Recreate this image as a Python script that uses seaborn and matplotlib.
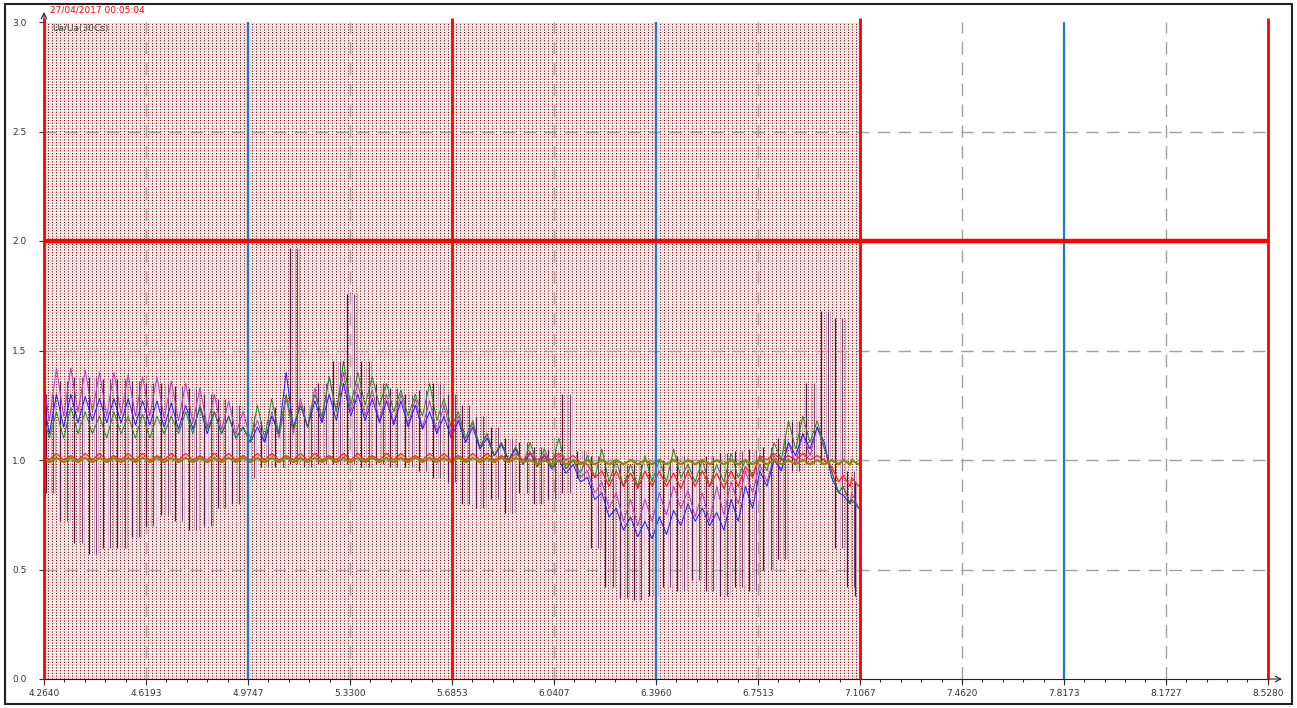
import numpy as np
import pandas as pd
import matplotlib
matplotlib.use("Agg")
import matplotlib.pyplot as plt
import seaborn as sns
from matplotlib.patches import Rectangle

# ---------------- data ----------------
x_ticks = [4.2640, 4.6193, 4.9747, 5.3300, 5.6853, 6.0407, 6.3960,
           6.7513, 7.1067, 7.4620, 7.8173, 8.1727, 8.5280]
x_tick_labels = ["4.2640", "4.6193", "4.9747", "5.3300", "5.6853", "6.0407",
                 "6.3960", "6.7513", "7.1067", "7.4620", "7.8173", "8.1727", "8.5280"]
y_ticks = [0.0, 0.5, 1.0, 1.5, 2.0, 2.5, 3.0]
y_tick_labels = ["0.0", "0.5", "1.0", "1.5", "2.0", "2.5", "3.0"]
red_markers = [4.2640, 5.6853, 7.1067, 8.5280]
blue_markers = [4.9747, 6.3960, 7.8173]
limit_level = 2.0
record_start, record_end = 4.2640, 7.1067
timestamp = "27/04/2017 00:05:04"
channel_label = "Ua/Ua(30Cs)"

t = [4.27, 4.32, 4.37, 4.42, 4.47, 4.52, 4.57, 4.62, 4.67, 4.72,
     4.77, 4.82, 4.87, 4.92, 4.97, 5.02, 5.07, 5.12, 5.17, 5.22,
     5.27, 5.32, 5.37, 5.42, 5.47, 5.52, 5.57, 5.62, 5.67, 5.72,
     5.77, 5.82, 5.87, 5.92, 5.97, 6.02, 6.07, 6.12, 6.17, 6.22,
     6.27, 6.32, 6.37, 6.42, 6.47, 6.52, 6.57, 6.62, 6.67, 6.72,
     6.77, 6.82, 6.87, 6.92, 6.97, 7.02, 7.06, 7.09]

purple_hi = [1.30, 1.36, 1.38, 1.38, 1.37, 1.37, 1.36, 1.35, 1.35, 1.34,
             1.33, 1.30, 1.28, 1.25, 1.20, 1.18, 1.24, 1.97, 1.25, 1.35,
             1.45, 1.76, 1.45, 1.35, 1.33, 1.30, 1.32, 1.35, 1.30, 1.25,
             1.20, 1.15, 1.10, 1.08, 1.06, 1.05, 1.30, 1.04, 1.02, 1.00,
             0.98, 0.98, 1.00, 1.00, 1.02, 1.00, 1.02, 1.03, 1.04, 1.05,
             1.06, 1.10, 1.18, 1.35, 1.68, 1.65, 0.95, 0.90]
purple_lo = [0.85, 0.72, 0.62, 0.57, 0.60, 0.60, 0.65, 0.70, 0.75, 0.72,
             0.68, 0.70, 0.78, 0.80, 0.92, 0.97, 0.97, 0.98, 0.97, 0.98,
             0.98, 0.98, 0.97, 0.98, 0.97, 0.97, 0.95, 0.92, 0.90, 0.80,
             0.78, 0.82, 0.76, 0.85, 0.80, 0.82, 0.85, 0.92, 0.60, 0.42,
             0.37, 0.36, 0.38, 0.42, 0.40, 0.45, 0.40, 0.38, 0.42, 0.40,
             0.50, 0.55, 0.95, 0.98, 0.98, 0.60, 0.42, 0.38]

magenta_hi = [1.40, 1.42, 1.42, 1.41, 1.40, 1.40, 1.39, 1.38, 1.38, 1.36,
              1.35, 1.33, 1.30, 1.27, 1.22, 1.18, 1.22, 1.28, 1.28, 1.33,
              1.38, 1.40, 1.35, 1.32, 1.30, 1.30, 1.28, 1.27, 1.25, 1.20,
              1.17, 1.12, 1.08, 1.06, 1.04, 1.03, 1.02, 1.00, 0.95, 0.90,
              0.85, 0.82, 0.82, 0.85, 0.88, 0.86, 0.85, 0.88, 0.90, 0.95,
              0.98, 1.02, 1.08, 1.12, 1.15, 0.95, 0.88, 0.85]
magenta_lo = [1.18, 1.20, 1.22, 1.22, 1.20, 1.21, 1.20, 1.20, 1.19, 1.18,
              1.17, 1.15, 1.14, 1.12, 1.10, 1.08, 1.10, 1.12, 1.15, 1.18,
              1.22, 1.22, 1.20, 1.18, 1.17, 1.16, 1.15, 1.13, 1.12, 1.08,
              1.05, 1.02, 1.00, 0.98, 0.97, 0.97, 0.96, 0.92, 0.85, 0.78,
              0.72, 0.70, 0.72, 0.75, 0.78, 0.74, 0.72, 0.75, 0.80, 0.85,
              0.90, 0.95, 0.98, 1.02, 1.05, 0.85, 0.80, 0.78]

blue_hi = [1.30, 1.30, 1.30, 1.29, 1.28, 1.28, 1.28, 1.27, 1.27, 1.26,
           1.25, 1.24, 1.22, 1.20, 1.15, 1.15, 1.20, 1.40, 1.25, 1.27,
           1.30, 1.35, 1.30, 1.28, 1.27, 1.27, 1.25, 1.22, 1.20, 1.18,
           1.15, 1.10, 1.07, 1.05, 1.03, 1.02, 1.00, 0.98, 0.92, 0.85,
           0.78, 0.74, 0.72, 0.74, 0.77, 0.80, 0.78, 0.76, 0.82, 0.88,
           0.95, 1.00, 1.08, 1.12, 1.15, 0.92, 0.84, 0.82]
blue_lo = [1.12, 1.15, 1.17, 1.18, 1.17, 1.17, 1.16, 1.16, 1.15, 1.14,
           1.14, 1.12, 1.12, 1.10, 1.08, 1.08, 1.12, 1.15, 1.15, 1.17,
           1.18, 1.20, 1.18, 1.17, 1.16, 1.15, 1.14, 1.12, 1.10, 1.08,
           1.05, 1.02, 1.00, 0.98, 0.97, 0.96, 0.94, 0.90, 0.82, 0.74,
           0.68, 0.65, 0.64, 0.66, 0.70, 0.72, 0.70, 0.68, 0.72, 0.78,
           0.88, 0.95, 1.02, 1.05, 1.08, 0.85, 0.80, 0.78]

green_hi = [1.22, 1.22, 1.24, 1.22, 1.20, 1.22, 1.20, 1.21, 1.20, 1.20,
            1.22, 1.25, 1.22, 1.20, 1.15, 1.25, 1.28, 1.30, 1.25, 1.30,
            1.38, 1.45, 1.40, 1.38, 1.35, 1.32, 1.30, 1.35, 1.28, 1.22,
            1.18, 1.12, 1.08, 1.06, 1.08, 1.05, 1.10, 1.00, 1.02, 1.05,
            1.00, 0.98, 1.02, 1.00, 1.05, 0.98, 1.00, 0.98, 1.03, 1.00,
            1.02, 1.08, 1.18, 1.20, 1.18, 0.95, 0.88, 0.82]
green_lo = [1.10, 1.10, 1.12, 1.12, 1.10, 1.12, 1.10, 1.10, 1.12, 1.12,
            1.12, 1.14, 1.12, 1.10, 1.08, 1.10, 1.12, 1.14, 1.15, 1.20,
            1.22, 1.25, 1.25, 1.25, 1.22, 1.20, 1.20, 1.18, 1.15, 1.10,
            1.06, 1.02, 1.00, 0.98, 0.98, 0.97, 0.96, 0.94, 0.92, 0.90,
            0.88, 0.88, 0.90, 0.90, 0.92, 0.90, 0.88, 0.90, 0.92, 0.93,
            0.95, 1.00, 1.05, 1.08, 1.06, 0.85, 0.80, 0.78]

red_hi = [1.03, 1.03, 1.02, 1.03, 1.03, 1.02, 1.03, 1.03, 1.02, 1.03,
          1.03, 1.02, 1.03, 1.03, 1.02, 1.03, 1.03, 1.02, 1.03, 1.03,
          1.02, 1.03, 1.03, 1.02, 1.03, 1.03, 1.02, 1.03, 1.03, 1.02,
          1.03, 1.03, 1.02, 1.03, 1.03, 1.02, 1.03, 1.02, 0.98, 0.95,
          0.95, 0.94, 0.95, 0.95, 0.94, 0.95, 0.95, 0.94, 0.95, 0.97,
          1.02, 1.03, 1.02, 1.03, 1.02, 0.97, 0.93, 0.92]
red_lo = [1.00, 1.00, 1.00, 1.00, 1.00, 1.00, 1.00, 1.00, 1.00, 1.00,
          1.00, 1.00, 1.00, 1.00, 1.00, 1.00, 1.00, 1.00, 1.00, 1.00,
          1.00, 1.00, 1.00, 1.00, 1.00, 1.00, 1.00, 1.00, 1.00, 1.00,
          1.00, 1.00, 1.00, 1.00, 1.00, 1.00, 1.00, 0.99, 0.92, 0.88,
          0.88, 0.87, 0.88, 0.88, 0.87, 0.88, 0.88, 0.87, 0.88, 0.92,
          1.00, 1.00, 1.00, 1.00, 1.00, 0.90, 0.88, 0.88]

olive_hi = [1.01, 1.01, 1.01, 1.01, 1.01, 1.01, 1.01, 1.01, 1.01, 1.01,
            1.01, 1.01, 1.01, 1.01, 1.01, 1.01, 1.01, 1.01, 1.01, 1.01,
            1.01, 1.01, 1.01, 1.01, 1.01, 1.01, 1.01, 1.01, 1.01, 1.01,
            1.01, 1.01, 1.01, 1.01, 1.00, 1.00, 1.00, 1.00, 1.00, 1.00,
            1.00, 1.00, 1.00, 1.00, 1.00, 1.00, 1.00, 1.00, 1.00, 1.00,
            1.00, 1.00, 1.00, 1.00, 1.00, 1.00, 1.00, 1.00]
olive_lo = [0.99, 0.99, 0.99, 0.99, 0.99, 0.99, 0.99, 0.99, 0.99, 0.99,
            0.99, 0.99, 0.99, 0.99, 0.99, 0.99, 0.99, 0.99, 0.99, 0.99,
            0.99, 0.99, 0.99, 0.99, 0.99, 0.99, 0.99, 0.99, 0.99, 0.99,
            0.99, 0.99, 0.99, 0.99, 0.98, 0.98, 0.98, 0.98, 0.98, 0.98,
            0.98, 0.98, 0.98, 0.98, 0.98, 0.98, 0.98, 0.98, 0.98, 0.98,
            0.98, 0.98, 0.98, 0.98, 0.98, 0.98, 0.98, 0.98]

# ---------------- style ----------------
sns.set_style("white")
plt.rcParams["font.family"] = ["DejaVu Sans"]

W, H = 1297, 708
fig = plt.figure(figsize=(W / 100, H / 100), dpi=100)
ax = fig.add_axes([44 / W, 29 / H, 1224 / W, 657 / H])
ax.set_xlim(record_start, 8.5280)
ax.set_ylim(0, 3.0)

# record sample grid (dense dotted verticals)
n_samples = 205
sample_x = np.linspace(record_start, record_end, n_samples)
ax.vlines(sample_x[:-1] + 0.006, 0, 3.0, colors="#e9c4c4", linewidth=1.0,
          linestyles=(0, (1.0, 1.0)), zorder=0.5)
ax.vlines(sample_x, 0, 3.0, colors="#7d1212", linewidth=0.9,
          linestyles=(0, (1.0, 1.2)), zorder=1)

# grid
dash = (0, (9, 6))
for gx in x_ticks:
    if gx in red_markers or gx in blue_markers:
        continue
    ax.axvline(gx, color="#a0a0a0", lw=1.0, linestyle=dash, zorder=2)
for gy in [0.5, 1.0, 1.5, 2.5]:
    ax.axhline(gy, color="#a0a0a0", lw=1.0, linestyle=dash, zorder=2)

# ---------------- series ----------------
half = 0.0125


def zigzag(hi, lo, name):
    xs, ys = [], []
    for xi, h, l in zip(t, hi, lo):
        xs += [xi - half, xi + half]
        ys += [h, l]
    return pd.DataFrame({"x": xs, "y": ys, "series": name})


t_arr = np.array(t)
p_hi = np.array(purple_hi)
p_lo = np.array(purple_lo)
# purple channel drawn as vertical min/max strokes (with faint ghost strokes)
for off, col, lw, z in [(0.0167, "#cfb0c6", 0.8, 2.5), (0.0333, "#cfb0c6", 0.8, 2.5),
                        (0.025, "#7a3a6a", 0.7, 3.0), (0.0, "#5a1450", 0.9, 3.05)]:
    keep = (t_arr + off) < record_end - 0.004
    ax.vlines(t_arr[keep] + off, p_lo[keep], p_hi[keep], colors=col, lw=lw, zorder=z)

series = [
    ("magenta", magenta_hi, magenta_lo, "#b23cb8", 0.7),
    ("blue", blue_hi, blue_lo, "#1a1aff", 0.7),
    ("green", green_hi, green_lo, "#1e8a1e", 0.7),
    ("red", red_hi, red_lo, "#ff2020", 0.9),
    ("olive", olive_hi, olive_lo, "#8c8a00", 1.6),
]
for i, (name, hi, lo, col, lw) in enumerate(series):
    df = zigzag(hi, lo, name)
    sns.lineplot(data=df, x="x", y="y", sort=False, estimator=None,
                 color=col, lw=lw, ax=ax, legend=False)
    ax.lines[-1].set_zorder(3.2 + i * 0.1)

# marker lines
ax.vlines(red_markers, 0, 3.02, colors="#ff0000", lw=2.0, zorder=5, clip_on=False)
ax.vlines(blue_markers, 0, 3.0, colors="#1f78c8", lw=1.6, zorder=5)
ax.hlines(limit_level, record_start, 8.5280, colors="#ff0000", lw=3.2, zorder=6)

# ---------------- axes ----------------
ax.set_xlabel("")
ax.set_ylabel("")
ax.set_xticks(x_ticks)
ax.set_xticklabels(x_tick_labels)
step = (x_ticks[1] - x_ticks[0]) / 5
ax.set_xticks(np.arange(record_start, 8.5281, step), minor=True)
ax.set_yticks(y_ticks)
ax.set_yticklabels(y_tick_labels)
ax.tick_params(axis="x", which="major", direction="out", length=4, width=0.8,
               labelsize=6.5, pad=3, colors="#333333", bottom=True)
ax.tick_params(axis="x", which="minor", direction="out", length=2, width=0.8,
               bottom=True)
ax.tick_params(axis="y", which="major", direction="out", length=3.5, width=0.8,
               labelsize=6.5, pad=9, colors="#333333", left=True)
for s in ["top", "right"]:
    ax.spines[s].set_visible(False)
for s in ["left", "bottom"]:
    ax.spines[s].set_color("#222222")
    ax.spines[s].set_linewidth(0.8)
ax.grid(False)

# axis arrows
ax.annotate("", xy=(1 + 14 / 1224, 0), xytext=(1, 0), xycoords="axes fraction",
            arrowprops=dict(arrowstyle="->", color="#222222", lw=0.8,
                            shrinkA=0, shrinkB=0), annotation_clip=False)
ax.annotate("", xy=(0, 1 + 10 / 657), xytext=(0, 1), xycoords="axes fraction",
            arrowprops=dict(arrowstyle="->", color="#222222", lw=0.8,
                            shrinkA=0, shrinkB=0), annotation_clip=False)

# texts
fig.text(50 / W, 1 - 10 / H, timestamp, color="#ff0000", fontsize=6.5,
         va="center", ha="left")
fig.text(52 / W, 1 - 28 / H, channel_label, color="#444444", fontsize=6.5,
         va="center", ha="left", zorder=10)

# outer frame
fig.patches.append(Rectangle((5 / W, 4 / H), (1292 - 5) / W, (704 - 4) / H,
                             transform=fig.transFigure, fill=False,
                             edgecolor="#222222", lw=1.5))

fig.savefig("out.png", dpi=100)
